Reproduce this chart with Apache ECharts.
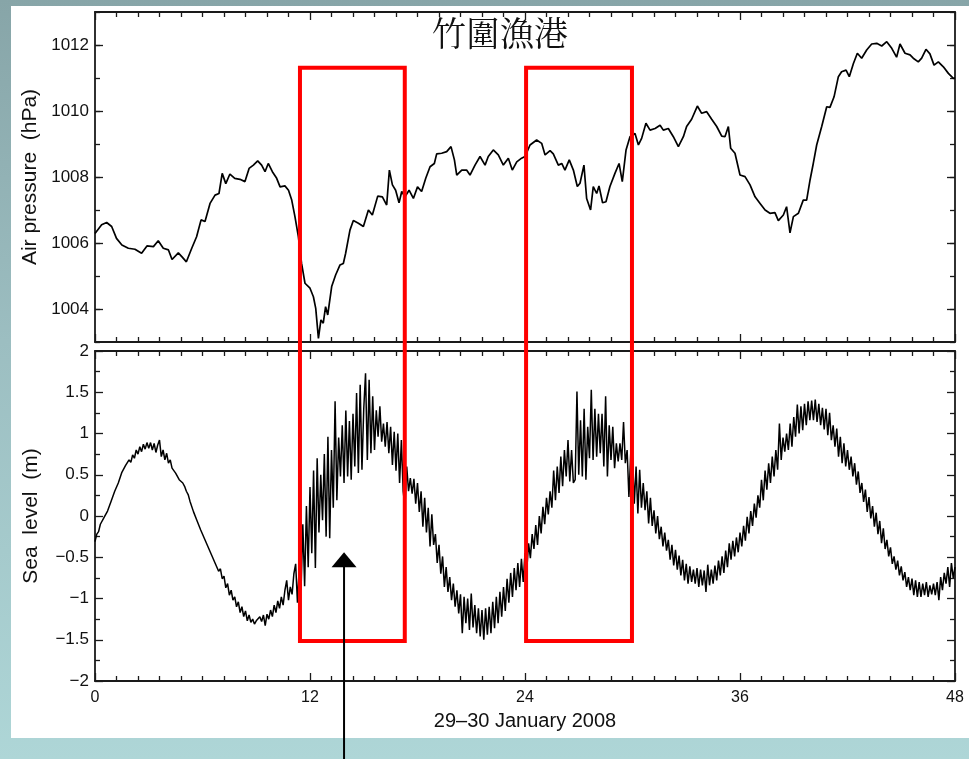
<!DOCTYPE html>
<html><head><meta charset="utf-8">
<script src="https://cdn.jsdelivr.net/npm/echarts@6/dist/echarts.min.js"></script>
<style>
html,body{margin:0;padding:0;}
body{width:969px;height:759px;overflow:hidden;background:linear-gradient(to bottom,#87a5a8 0%,#9cbec1 45%,#aed6d7 100%);position:relative;}
#panel{position:absolute;left:11px;top:6px;width:958px;height:732px;background:#fff;}
#chart{position:absolute;left:0;top:0;width:969px;height:759px;}
</style></head><body>
<div id="panel"></div><div id="chart"></div>
<script>
// ---- DATA ----
const chartTitle = '竹圍漁港';
const xTitle = '29–30 January 2008';
const pressureName = 'Air pressure  (hPa)';
const seaName = 'Sea  level  (m)';
const pressureLabelTicks = [1004, 1006, 1008, 1010, 1012];

// air pressure (hours, hPa)
const pTime = [0,0.37,0.65,0.93,1.2,1.5,1.86,2.23,2.6,2.9,3.26,3.53,3.81,4.1,4.3,4.65,4.87,5.1,5.4,5.67,5.92,6.14,6.42,6.7,6.92,7.1,7.3,7.53,7.8,8.09,8.37,8.6,8.84,9.08,9.3,9.49,9.67,9.9,10.14,10.33,10.6,10.8,10.98,11.16,11.35,11.53,11.72,12.0,12.19,12.32,12.47,12.61,12.74,12.87,12.99,13.21,13.43,13.67,13.86,13.99,14.23,14.42,14.7,14.98,15.26,15.48,15.78,16.04,16.28,16.43,16.6,16.78,16.97,17.12,17.3,17.53,17.77,18.0,18.23,18.46,18.7,18.94,19.07,19.35,19.63,19.87,20.06,20.19,20.47,20.74,20.93,21.21,21.49,21.77,21.95,22.23,22.51,22.79,23.07,23.29,23.54,23.81,24.0,24.28,24.65,24.93,25.12,25.4,25.58,25.86,26.05,26.23,26.47,26.7,26.92,27.07,27.29,27.44,27.66,27.81,28.0,28.13,28.33,28.52,28.74,29.02,29.25,29.43,29.64,29.86,30.14,30.33,30.51,30.75,30.98,31.26,31.54,31.72,32.0,32.28,32.56,32.84,33.02,33.3,33.62,33.86,34.14,34.42,34.7,34.98,35.16,35.35,35.48,35.72,36.0,36.28,36.56,36.84,37.12,37.4,37.67,37.95,38.14,38.42,38.6,38.79,38.98,39.26,39.53,39.72,39.91,40.09,40.28,40.56,40.84,41.02,41.25,41.49,41.67,41.92,42.1,42.33,42.55,42.79,43.07,43.35,43.63,43.91,44.19,44.47,44.74,44.93,45.21,45.49,45.67,45.95,46.14,46.38,46.6,46.83,47.07,47.35,47.63,47.91,48.0];
const pVal = [1006.29,1006.55,1006.62,1006.5,1006.14,1005.94,1005.84,1005.81,1005.69,1005.91,1005.89,1006.07,1005.84,1005.79,1005.5,1005.7,1005.57,1005.43,1005.84,1006.19,1006.7,1006.65,1007.2,1007.45,1007.5,1008.11,1007.8,1008.09,1007.96,1007.93,1007.86,1008.26,1008.36,1008.49,1008.36,1008.16,1008.41,1008.16,1007.96,1007.7,1007.73,1007.6,1007.3,1006.8,1006.19,1005.38,1004.78,1004.63,1004.37,1004.02,1003.11,1003.67,1003.57,1004.07,1003.82,1004.68,1005.03,1005.33,1005.38,1005.69,1006.39,1006.68,1006.6,1006.5,1007.0,1006.85,1007.42,1007.4,1007.15,1008.21,1007.76,1007.6,1007.22,1007.56,1007.4,1007.6,1007.35,1007.7,1007.56,1007.96,1008.31,1008.41,1008.7,1008.72,1008.77,1008.92,1008.52,1008.06,1008.21,1008.21,1008.06,1008.36,1008.62,1008.36,1008.62,1008.82,1008.67,1008.36,1008.57,1008.21,1008.46,1008.57,1008.62,1008.97,1009.12,1009.02,1008.67,1008.8,1008.7,1008.36,1008.41,1008.21,1008.52,1008.21,1007.71,1007.81,1008.36,1007.35,1007.0,1007.71,1007.5,1007.73,1007.22,1007.25,1007.71,1008.11,1008.41,1007.86,1008.82,1009.22,1009.32,1008.97,1009.17,1009.63,1009.42,1009.47,1009.57,1009.42,1009.47,1009.22,1008.92,1009.22,1009.53,1009.75,1010.15,1009.93,1009.98,1009.75,1009.53,1009.24,1009.22,1009.53,1008.87,1008.72,1008.06,1008.01,1007.76,1007.4,1007.2,1007.0,1006.9,1006.92,1006.68,1006.85,1007.1,1006.31,1006.8,1006.9,1007.3,1007.3,1007.91,1008.41,1008.97,1009.53,1010.13,1010.11,1010.43,1011.04,1011.19,1011.24,1011.04,1011.44,1011.75,1011.6,1011.85,1012.03,1012.05,1011.97,1012.1,1011.9,1011.63,1012.03,1011.75,1011.7,1011.6,1011.49,1011.6,1011.87,1011.73,1011.39,1011.49,1011.34,1011.14,1010.99,1011.0];

// sea level (m), one sample every seaStep hours
const seaStep = 0.1;
const seaA = [ // 0.0 - 11.9 h
-0.31,-0.22,-0.19,-0.10,-0.11,-0.02,0.00,0.06,0.07,0.18,
0.19,0.30,0.28,0.40,0.42,0.53,0.52,0.61,0.59,0.68,
0.65,0.74,0.70,0.80,0.75,0.84,0.78,0.87,0.81,0.89,
0.82,0.89,0.80,0.88,0.77,0.86,0.92,0.72,0.80,0.68,
0.76,0.64,0.68,0.58,0.60,0.52,0.53,0.44,0.46,0.40,
0.36,0.30,0.26,0.18,0.16,0.05,0.04,-0.06,-0.08,-0.17,
-0.18,-0.27,-0.27,-0.37,-0.36,-0.47,-0.46,-0.57,-0.55,-0.67,
-0.64,-0.76,-0.73,-0.87,-0.82,-0.96,-0.90,-1.02,-0.98,-1.10,
-1.04,-1.17,-1.10,-1.22,-1.15,-1.27,-1.20,-1.29,-1.25,-1.31,
-1.27,-1.26,-1.22,-1.28,-1.20,-1.33,-1.19,-1.25,-1.14,-1.22,
-1.08,-1.17,-1.03,-1.12,-0.98,-1.08,-0.90,-0.78,-1.02,-0.86,
-0.95,-0.70,-0.58,-1.05,-0.62,-0.90,-0.10,-0.85,0.12,-0.62];
const seaB = [ // 12.0 - 23.9 h
0.35,-0.45,0.55,-0.63,0.70,-0.20,0.50,-0.05,0.75,-0.25,
0.96,-0.27,0.80,0.10,1.39,0.19,0.95,0.48,1.10,0.40,
1.28,0.48,1.15,0.44,1.24,0.60,1.49,0.52,1.59,0.56,
1.30,1.73,0.68,1.65,0.76,1.45,0.80,1.28,0.96,1.33,
0.90,1.12,0.84,1.14,0.76,1.08,0.62,1.02,0.55,1.00,
0.40,0.92,0.30,0.11,0.60,0.30,0.46,0.27,0.45,0.15,
0.40,0.05,0.30,-0.13,0.22,-0.20,0.10,-0.37,0.02,-0.35,
-0.22,-0.57,-0.35,-0.70,-0.49,-0.86,-0.62,-0.92,-0.74,-1.02,
-0.82,-1.10,-0.90,-1.18,-0.95,-1.42,-0.98,-1.30,-1.00,-1.38,
-0.94,-1.35,-1.08,-1.42,-1.12,-1.46,-1.14,-1.50,-1.12,-1.44,
-1.10,-1.42,-1.04,-1.36,-0.98,-1.30,-0.92,-1.22,-0.86,-1.15,
-0.76,-1.05,-0.69,-0.98,-0.63,-0.90,-0.57,-0.86,-0.52,-0.80];
const seaC = [ // 24.0 - 35.9 h
-0.45,-0.65,-0.33,-0.51,-0.22,-0.40,-0.11,-0.35,0.00,-0.21,
0.11,-0.10,0.22,0.02,0.30,0.10,0.55,0.19,0.60,0.28,
0.72,0.36,0.80,0.48,0.92,0.42,0.80,0.40,0.44,1.51,
0.50,1.16,0.48,1.30,0.44,1.08,0.70,1.53,0.68,1.30,
0.72,1.24,0.76,1.24,0.60,1.45,0.48,1.10,0.68,1.08,
0.58,0.88,0.66,0.88,0.68,1.14,0.64,0.80,0.23,0.75,
0.72,0.15,0.60,0.03,0.56,0.10,0.40,0.07,0.30,-0.09,
0.22,-0.12,0.07,-0.21,0.00,-0.28,-0.13,-0.37,-0.20,-0.42,
-0.29,-0.53,-0.35,-0.60,-0.41,-0.65,-0.48,-0.72,-0.53,-0.78,
-0.58,-0.82,-0.61,-0.80,-0.65,-0.82,-0.63,-0.86,-0.65,-0.84,
-0.66,-0.92,-0.59,-0.84,-0.65,-0.82,-0.60,-0.78,-0.54,-0.72,
-0.49,-0.69,-0.42,-0.62,-0.33,-0.53,-0.30,-0.49,-0.26,-0.44];
const seaD = [ // 36.0 - 48.0 h
-0.20,-0.37,-0.12,-0.30,-0.01,-0.21,0.06,-0.12,0.15,-0.02,
0.25,0.10,0.44,0.19,0.55,0.32,0.64,0.40,0.72,0.48,
0.80,0.56,1.12,0.68,0.95,0.78,1.00,0.80,1.12,0.84,
1.20,0.96,1.35,1.00,1.33,1.04,1.36,1.10,1.39,1.16,
1.40,1.16,1.41,1.14,1.36,1.10,1.31,1.05,1.30,0.98,
1.25,0.92,1.10,0.84,1.06,0.72,0.96,0.64,0.88,0.60,
0.80,0.56,0.72,0.48,0.64,0.38,0.54,0.28,0.40,0.17,
0.32,0.05,0.23,-0.03,0.12,-0.13,0.04,-0.22,-0.06,-0.33,
-0.15,-0.40,-0.29,-0.49,-0.38,-0.58,-0.49,-0.65,-0.54,-0.72,
-0.61,-0.78,-0.68,-0.86,-0.74,-0.90,-0.76,-0.96,-0.78,-0.98,
-0.80,-0.98,-0.82,-0.96,-0.80,-0.98,-0.84,-0.95,-0.82,-0.96,
-0.80,-1.02,-0.74,-0.90,-0.69,-0.82,-0.62,-0.86,-0.57,-0.75,
-0.62];

// annotation boxes (hours) spanning from boxTop (hPa) to boxBottom (m)
const boxStarts = [11.44, 24.06];
const boxEnds = [17.29, 29.97];
const boxTop = 1011.31;
const boxBottom = -1.515;
// arrow (hours, m)
const arrowT = 13.9;
const arrowTip = -0.44;
const arrowEnd = -2.95;

// ---- CHART ----
const pressureData = pTime.map((t, i) => [t, pVal[i]]);
const seaVals = seaA.concat(seaB, seaC, seaD);
const seaData = seaVals.map((v, i) => [+(i * seaStep).toFixed(2), v]);

const FONT = 'Liberation Sans, Arial, Helvetica, sans-serif';
const AX = { lineStyle: { color: '#1a1a1a', width: 1.8 } };
const chart = echarts.init(document.getElementById('chart'), null, { renderer: 'canvas' });

function xAx(gridIndex, position, labels) {
  const o = {
    type: 'value', gridIndex, position, min: 0, max: 48, interval: 12,
    axisLine: { show: true, onZero: false, ...AX },
    axisTick: { show: true, inside: true, length: 8, lineStyle: { color: '#1a1a1a', width: 1.3 } },
    minorTick: { show: true, splitNumber: 10, length: 5, lineStyle: { color: '#1a1a1a', width: 1.3 } },
    splitLine: { show: false }, minorSplitLine: { show: false },
    axisLabel: { show: labels, fontFamily: FONT, fontSize: 16, color: '#111', margin: 9 }
  };
  if (labels) {
    o.name = xTitle; o.nameLocation = 'middle'; o.nameGap = 30;
    o.nameTextStyle = { fontFamily: FONT, fontSize: 20, color: '#111' };
  }
  return o;
}
function pAx(position, labels, long) {
  const o = {
    type: 'value', gridIndex: 0, position, min: 1003, max: 1013, interval: 1,
    axisLine: { show: !long, onZero: false, ...AX },
    axisTick: { show: true, inside: true, length: long ? 8 : 5, lineStyle: { color: '#1a1a1a', width: 1.3 } },
    splitLine: { show: false },
    axisLabel: { show: false }
  };
  if (long) o.axisTick.customValues = pressureLabelTicks;
  if (labels) {
    o.axisLabel = { show: true, fontFamily: FONT, fontSize: 17, color: '#111', margin: 6,
      formatter: v => (pressureLabelTicks.indexOf(v) >= 0 ? String(v) : '') };
    o.name = pressureName; o.nameLocation = 'middle'; o.nameGap = 53;
    o.nameTextStyle = { fontFamily: FONT, fontSize: 21, color: '#111' };
  }
  return o;
}
function sAx(position, labels) {
  const o = {
    type: 'value', gridIndex: 1, position, min: -2, max: 2, interval: 0.5,
    axisLine: { show: true, onZero: false, ...AX },
    axisTick: { show: true, inside: true, length: 8, lineStyle: { color: '#1a1a1a', width: 1.3 } },
    minorTick: { show: true, splitNumber: 2, length: 5, lineStyle: { color: '#1a1a1a', width: 1.3 } },
    splitLine: { show: false }, minorSplitLine: { show: false },
    axisLabel: { show: labels, fontFamily: FONT, fontSize: 17, color: '#111', margin: 6,
      formatter: v => String(v).replace('-', '\u2212') }
  };
  if (labels) {
    o.name = seaName; o.nameLocation = 'middle'; o.nameGap = 53;
    o.nameTextStyle = { fontFamily: FONT, fontSize: 21, color: '#111' };
  }
  return o;
}

chart.setOption({
  animation: false,
  backgroundColor: 'transparent',
  title: {
    text: chartTitle, left: 427, top: 11,
    textStyle: { fontFamily: 'Noto Serif CJK TC, Noto Sans CJK TC, serif', fontSize: 34, fontWeight: 'normal', color: '#111' }
  },
  grid: [
    { left: 95, top: 12, width: 860, height: 330, outerBoundsMode: 'none', containLabel: false },
    { left: 95, top: 351, width: 860, height: 330, outerBoundsMode: 'none', containLabel: false }
  ],
  xAxis: [xAx(0, 'bottom', false), xAx(0, 'top', false), xAx(1, 'bottom', true), xAx(1, 'top', false)],
  yAxis: [pAx('left', true, false), pAx('left', false, true), pAx('right', false, false), pAx('right', false, true),
          sAx('left', true), sAx('right', false)],
  series: [
    { type: 'line', xAxisIndex: 0, yAxisIndex: 0, data: pressureData, showSymbol: false, symbol: 'none',
      lineStyle: { color: '#000', width: 1.7 }, z: 5 },
    { type: 'line', xAxisIndex: 2, yAxisIndex: 4, data: seaData, showSymbol: false, symbol: 'none',
      lineStyle: { color: '#000', width: 1.5 }, z: 5 }
  ]
});

const pt = (xi, yi, v) => chart.convertToPixel({ xAxisIndex: xi, yAxisIndex: yi }, v);
const g = [];
boxStarts.forEach((s, i) => {
  const a = pt(0, 0, [s, boxTop]);
  const b = pt(2, 4, [boxEnds[i], boxBottom]);
  g.push({ type: 'rect', z: 100, shape: { x: a[0], y: a[1], width: b[0] - a[0], height: b[1] - a[1] },
    style: { fill: 'none', stroke: '#ff0000', lineWidth: 4 } });
});
const tip = pt(2, 4, [arrowT, arrowTip]);
const end = pt(2, 4, [arrowT, arrowEnd]);
g.push({ type: 'line', z: 100, shape: { x1: tip[0], y1: tip[1] + 10, x2: end[0], y2: end[1] },
  style: { stroke: '#000', lineWidth: 2 } });
g.push({ type: 'polygon', z: 101, shape: { points: [[tip[0], tip[1]], [tip[0] - 12.5, tip[1] + 15], [tip[0] + 12.5, tip[1] + 15]] },
  style: { fill: '#000' } });
chart.setOption({ graphic: g });
</script></body></html>
